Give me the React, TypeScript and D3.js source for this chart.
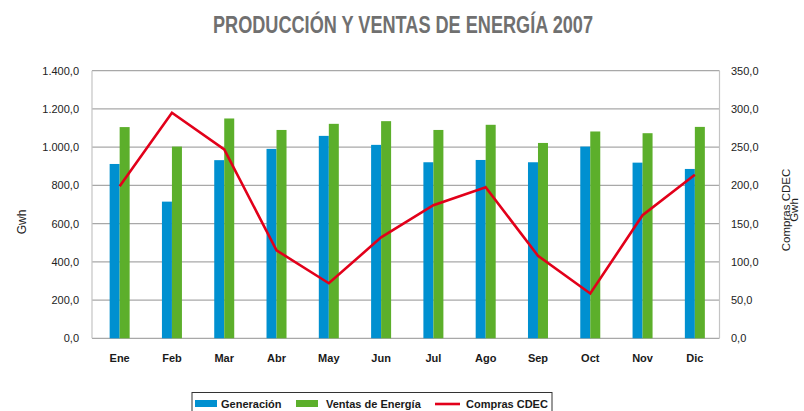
import React from "react";
import * as d3 from "d3";

const months = ["Ene", "Feb", "Mar", "Abr", "May", "Jun", "Jul", "Ago", "Sep", "Oct", "Nov", "Dic"];
const generacion = [912, 715, 932, 991, 1059, 1012, 921, 933, 921, 1003, 919, 886];
const ventas = [1105, 1003, 1150, 1090, 1122, 1136, 1090, 1117, 1022, 1082, 1073, 1106];
const compras = [199, 295, 247, 115, 72, 132, 174, 197.5, 108, 58.6, 161, 214];
const leftTicks = [0, 200, 400, 600, 800, 1000, 1200, 1400];
const rightTicks = [0, 50, 100, 150, 200, 250, 300, 350];

const W = 804, H = 411;
const L = 92, R = 719.5, T = 70.7, B = 338.3;

const fmt = (v: number) => {
  const s = v.toFixed(1).replace(".", ",");
  const [i, d] = s.split(",");
  return i.replace(/\B(?=(\d{3})+(?!\d))/g, ".") + "," + d;
};

export default function App() {
  const x = d3.scaleBand<string>().domain(months).range([L, R]);
  const yL = d3.scaleLinear().domain([0, 1400]).range([B, T]);
  const yR = d3.scaleLinear().domain([0, 350]).range([B, T]);
  const bw = 10;
  const cx = (m: string) => (x(m) as number) + x.bandwidth() / 2 + 1.5;
  const line = d3
    .line<number>()
    .x((_, i) => cx(months[i]))
    .y((d) => yR(d));
  const font = "'Liberation Sans', Arial, sans-serif";
  return (
    <svg width={W} height={H} style={{ position: "absolute", left: 0, top: 0, background: "#fff" }}>
      <text
        x={403}
        y={33}
        textAnchor="middle"
        fontFamily="'Liberation Sans Narrow', 'Liberation Sans', sans-serif"
        fontWeight="bold"
        fontSize={24}
        fill="#707070"
        textLength={380}
        lengthAdjust="spacingAndGlyphs"
      >
        PRODUCCIÓN Y VENTAS DE ENERGÍA 2007
      </text>
      {leftTicks.map((t) => (
        <line key={"g" + t} x1={L} x2={R} y1={yL(t)} y2={yL(t)} stroke="#a8a8a8" strokeWidth={1.2} />
      ))}
      <line x1={L} x2={L} y1={T} y2={B} stroke="#c4c4c4" strokeWidth={1.2} />
      <line x1={R} x2={R} y1={T} y2={B} stroke="#c4c4c4" strokeWidth={1.2} />
      {months.map((m, i) => (
        <g key={m}>
          <rect x={cx(m) - bw} y={yL(generacion[i])} width={bw} height={B - yL(generacion[i])} fill="#0090d0" />
          <rect x={cx(m)} y={yL(ventas[i])} width={bw} height={B - yL(ventas[i])} fill="#5caf2b" />
          <text x={cx(m)} y={362} textAnchor="middle" fontFamily={font} fontWeight="bold" fontSize={11} fill="#1a1a1a">
            {m}
          </text>
        </g>
      ))}
      <path d={line(compras) || ""} fill="none" stroke="#e2001a" strokeWidth={2.6} strokeLinejoin="miter" />
      {leftTicks.map((t) => (
        <text key={"l" + t} x={79} y={yL(t) + 4} textAnchor="end" fontFamily={font} fontSize={11} fill="#222">
          {fmt(t)}
        </text>
      ))}
      {rightTicks.map((t) => (
        <text key={"r" + t} x={731} y={yR(t) + 4} textAnchor="start" fontFamily={font} fontSize={11} fill="#222">
          {fmt(t)}
        </text>
      ))}
      <text transform="translate(26,222) rotate(-90)" textAnchor="middle" fontFamily={font} fontSize={12} fill="#222">
        Gwh
      </text>
      <text transform="translate(789.5,210) rotate(-90)" textAnchor="middle" fontFamily={font} fontSize={11.5} fill="#222">
        <tspan x={0} dy={0}>Compras CDEC</tspan>
        <tspan x={0} dy={8.5}>Gwh</tspan>
      </text>
      <rect x={192} y={392.5} width={360} height={24} fill="none" stroke="#333" strokeWidth={1} />
      <rect x={195} y={400} width={22} height={7} fill="#0090d0" />
      <text x={221} y={408} fontFamily={font} fontWeight="bold" fontSize={11} fill="#1a1a1a">Generación</text>
      <rect x={296} y={400} width={22} height={7} fill="#5caf2b" />
      <text x={326} y={408} fontFamily={font} fontWeight="bold" fontSize={11} fill="#1a1a1a">Ventas de Energía</text>
      <line x1={435} x2={460} y1={404} y2={404} stroke="#e2001a" strokeWidth={2.6} />
      <text x={466} y={408} fontFamily={font} fontWeight="bold" fontSize={11} fill="#1a1a1a">Compras CDEC</text>
    </svg>
  );
}
